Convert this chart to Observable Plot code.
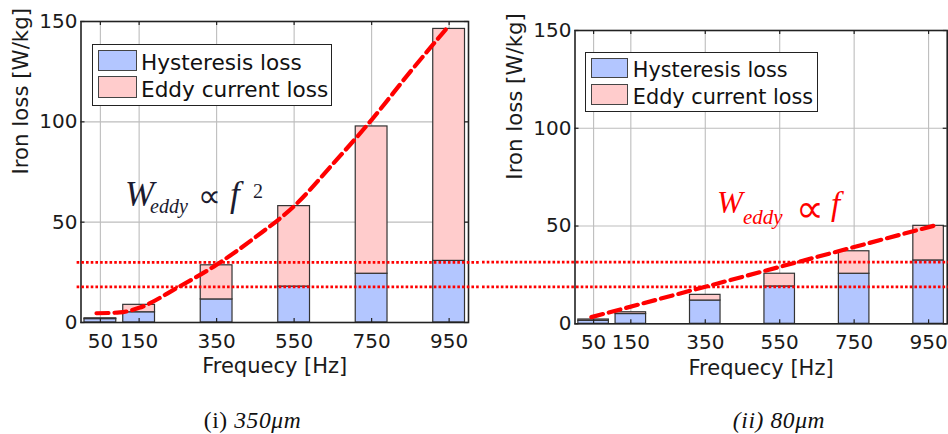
<!DOCTYPE html>
<html><head><meta charset="utf-8">
<script src="https://cdn.jsdelivr.net/npm/d3@7"></script>
<script src="https://cdn.jsdelivr.net/npm/@observablehq/plot@0.6"></script>
<style>
body{margin:0;background:#fff;}
#wrap{position:relative;width:948px;height:434px;overflow:hidden;background:#fff;}
.chart{position:absolute;top:0;}
.legend{position:absolute;background:#fff;border:1.5px solid #222;box-sizing:border-box;font-family:"DejaVu Sans",sans-serif;color:#111;}
.legend .sw{position:absolute;box-sizing:border-box;border:1.5px solid #444;}
.legend .lt{position:absolute;line-height:1;white-space:nowrap;}
.pc{position:absolute;line-height:1;white-space:nowrap;}
.cap{position:absolute;font-family:"Liberation Serif","DejaVu Serif",serif;text-align:center;line-height:1;white-space:nowrap;color:#111;letter-spacing:0.6px;}
</style>
</head><body><div id="wrap"></div>
<script>
// ---- data ----
const frequencies = [50, 150, 350, 550, 750, 950];
const seriesNames = ["Hysteresis loss", "Eddy current loss"];
const seriesColors = ["#b3c6ff", "#ffcccc"];
const yTicks = [0, 50, 100, 150];

// (i) 350 um sheet
const hysteresis350 = [1.7, 5.1, 11.5, 17.9, 24.3, 30.7];
const eddy350 = [0.4, 3.7, 17.0, 40.1, 73.4, 115.6];
const trendFreq350 = [40, 100, 150, 250, 350, 450, 550, 650, 750, 850, 950];
const trendLoss350 = [4.6, 5.0, 7.3, 17.5, 28.8, 42.5, 58, 79, 101, 125, 148];
const refLevels350 = [30.0, 17.8];

// (ii) 80 um sheet
const hysteresis80 = [1.5, 5.0, 11.9, 19.1, 25.6, 32.4];
const eddy80 = [0.7, 0.9, 2.9, 6.5, 11.5, 17.7];
const trendFreq80 = [44, 965];
const trendLoss80 = [3.4, 50.2];
const refLevels80 = [31.5, 18.9];

const xLabel = "Frequecy [Hz]";
const yLabel = "Iron loss [W/kg]";

const wrap = document.getElementById("wrap");

function makeChart(o) {
  const rows = frequencies.flatMap((f, i) => [
    {f, series: seriesNames[0], y1: 0, y2: o.hyst[i]},
    {f, series: seriesNames[1], y1: o.hyst[i], y2: o.hyst[i] + o.eddy[i]}
  ]);
  const trend = o.trendF.map((f, i) => ({f, v: o.trendV[i]}));
  const fh = o.height - o.mt - o.mb;
  const fw = o.width - o.ml - o.mr;
  const ink = "#1a1a1a";
  const svg = Plot.plot({
    width: o.width, height: o.height,
    marginLeft: o.ml, marginRight: o.mr, marginTop: o.mt, marginBottom: o.mb,
    style: {fontFamily: "DejaVu Sans, sans-serif", fontSize: "20px", color: ink, background: "transparent"},
    x: {domain: [0, 1000]},
    y: {domain: [0, 150]},
    color: {domain: seriesNames, range: seriesColors},
    marks: [
      Plot.gridX(frequencies, {stroke: "#bdbdbd", strokeOpacity: 1, strokeWidth: 1.1}),
      Plot.gridY(yTicks, {stroke: "#bdbdbd", strokeOpacity: 1, strokeWidth: 1.1}),
      Plot.rect(rows, {x1: d => d.f - 41, x2: d => d.f + 41, y1: "y1", y2: "y2", fill: "series", stroke: "#333", strokeWidth: 1.2}),
      Plot.ruleX(frequencies, {insetBottom: fh - 4, stroke: "#222", strokeWidth: 1.2}),
      Plot.ruleX(frequencies, {insetTop: fh - 4, stroke: "#222", strokeWidth: 1.2}),
      Plot.ruleY(yTicks, {insetRight: fw - 4, stroke: "#222", strokeWidth: 1.2}),
      Plot.ruleY(yTicks, {insetLeft: fw - 4, stroke: "#222", strokeWidth: 1.2}),
      Plot.frame({stroke: "#222", strokeWidth: 1.6}),
      Plot.ruleY(o.refs, {x1: o.refX1, x2: o.refX2, stroke: "#ff0000", strokeWidth: 2.8, strokeDasharray: "2.6,2.1"}),
      Plot.line(trend, {x: "f", y: "v", stroke: "#ff0000", strokeWidth: 4.2, strokeDasharray: "12,6", curve: "monotone-x"}),
      Plot.axisX(frequencies, {tickSize: 0, tickPadding: 11, label: null, fill: ink}),
      Plot.axisY(yTicks, {tickSize: 0, tickPadding: 3.5, label: null, fill: ink}),
      Plot.text([xLabel], {text: d => d, frameAnchor: "bottom", lineAnchor: "top", dy: 36, fontSize: 21, fill: ink}),
      Plot.text([yLabel], {text: d => d, frameAnchor: "left", rotate: -90, dx: -59.5, dy: 2.5, fontSize: 21.3, fill: ink})
    ]
  });
  svg.classList.add("chart");
  svg.style.left = o.left + "px";
  wrap.appendChild(svg);
}

makeChart({left: 0, width: 480, height: 390, ml: 80.5, mr: 12, mt: 21, mb: 68,
  hyst: hysteresis350, eddy: eddy350, trendF: trendFreq350, trendV: trendLoss350,
  refs: refLevels350, refX1: -10, refX2: 1100});
makeChart({left: 480, width: 468, height: 390, ml: 94.5, mr: 1.3, mt: 30, mb: 66.7,
  hyst: hysteresis80, eddy: eddy80, trendF: trendFreq80, trendV: trendLoss80,
  refs: refLevels80, refX1: -400, refX2: 1005});

function legend(x, y, w, h, fs, sw, swH, txtX, base1, base2) {
  const d = document.createElement("div");
  d.className = "legend";
  Object.assign(d.style, {left: x + "px", top: y + "px", width: w + "px", height: h + "px", fontSize: fs + "px"});
  const tops = [base1, base2];
  seriesNames.forEach((name, i) => {
    const s = document.createElement("div");
    s.className = "sw";
    Object.assign(s.style, {left: sw[0] + "px", top: sw[1][i] + "px", width: sw[2] + "px", height: swH + "px", background: seriesColors[i]});
    d.appendChild(s);
    const t = document.createElement("div");
    t.className = "lt";
    t.textContent = name;
    Object.assign(t.style, {left: txtX + "px", top: (tops[i] - 0.846 * fs) + "px"});
    d.appendChild(t);
  });
  wrap.appendChild(d);
}
legend(91.5, 43.5, 240.5, 62.5, 21.6, [5.5, [5, 31.5], 38.5], 21.5, 48.5, 25.5, 52.5);
legend(585, 52.3, 233.3, 60, 20.8, [5.2, [4.5, 31], 36.6], 20.7, 46.8, 24.5, 51.5);

// formula pieces, each placed by its baseline
function piece(text, x, baseline, fs, color, opts = {}) {
  const d = document.createElement("div");
  d.className = "pc";
  const serif = !opts.sans;
  const k = serif ? 0.8375 : 0.846;
  Object.assign(d.style, {
    left: x + "px", top: (baseline - k * fs) + "px", fontSize: fs + "px", color,
    fontFamily: serif ? '"Liberation Serif", serif' : '"DejaVu Sans", sans-serif',
    fontStyle: opts.italic ? "italic" : "normal"
  });
  d.textContent = text;
  wrap.appendChild(d);
}
const darkInk = "#1b1b30";
piece("W", 125, 206, 35, darkInk, {italic: true});
piece("eddy", 150, 213, 20, darkInk, {italic: true});
piece("∝", 198, 207.5, 32, darkInk, {sans: true});
piece("f", 230, 206, 35, darkInk, {italic: true});
piece("2", 253, 198, 20, darkInk);

const red = "#ff0000";
piece("W", 717, 213, 31, red, {italic: true});
piece("eddy", 743, 225, 21, red, {italic: true});
piece("∝", 796, 222, 39, red, {sans: true});
piece("f", 831, 216, 33, red, {italic: true});

function caption(cx, baseline, html) {
  const d = document.createElement("div");
  d.className = "cap";
  const fs = 23.5;
  Object.assign(d.style, {left: (cx - 100) + "px", width: "200px", top: (baseline - 0.8375 * fs) + "px", fontSize: fs + "px"});
  d.innerHTML = html;
  wrap.appendChild(d);
}
caption(252.5, 428.5, '(i) <i>350μm</i>');
caption(779, 428.5, '<i>(ii) 80μm</i>');
</script>
</body></html>
